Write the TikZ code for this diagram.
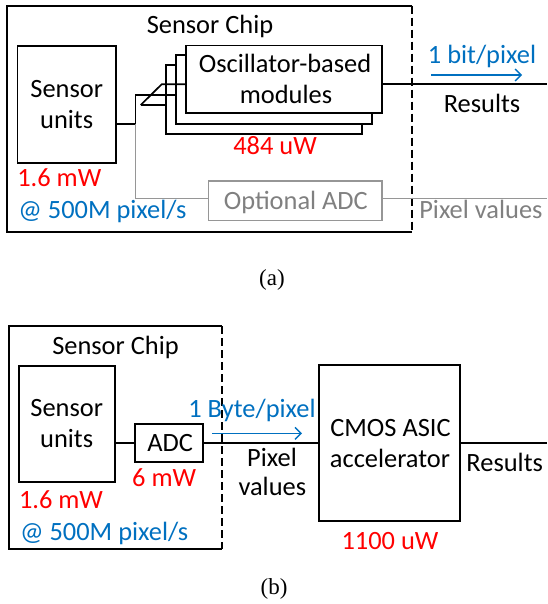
\documentclass[tikz,border=0pt]{standalone}
\usepackage{fontspec}
\setmainfont{Carlito}
\newfontfamily\capfont{Liberation Serif}
\usetikzlibrary{arrows.meta}
\definecolor{myred}{RGB}{255,0,0}
\definecolor{myblue}{RGB}{0,112,192}
\definecolor{mygray}{RGB}{128,128,128}
\definecolor{mygraybox}{RGB}{150,150,150}
\begin{document}
\begin{tikzpicture}[x=1pt,y=-1pt,line width=1.7pt,
  every node/.style={font=\fontsize{26.4}{31}\selectfont,inner sep=0pt,outer sep=0pt},
  blk/.style={draw,fill=white,line width=1.7pt,align=center},
  gblk/.style={draw=mygraybox,fill=white,line width=1.6pt,text=mygray},
  chipedge/.style={dash pattern=on 8pt off 4pt,line width=1.7pt},
  redlbl/.style={text=myred},
  bluelbl/.style={text=myblue},
  graylbl/.style={text=mygray},
  rate/.style={draw=myblue,line width=1.4pt,-{Straight Barb[length=6pt,width=12pt,line width=1.4pt]}},
  caplbl/.style={font=\capfont\fontsize{23}{26}\selectfont}
]
\useasboundingbox (0,0) rectangle (547,604);

% ================= (a) =================
\coordinate (a1) at (411.7,5.7);
\coordinate (a2) at (7.3,5.7);
\coordinate (a3) at (7.3,232.3);
\coordinate (a4) at (411.7,232.3);
\draw (a1) -- (a2) -- (a3) -- (a4);
\draw[chipedge] (a1) -- (a4);
\node[anchor=base] (chipA) at (210,33.3) {Sensor Chip};

\node[blk,minimum width=98.7pt,minimum height=117.6pt] (suA) at (66.7,104.5) {};
\node[anchor=base] (suAt1) at (66.7,97.3) {Sensor};
\node[anchor=base] (suAt2) at (66.7,129) {units};

\node[blk,minimum width=196pt,minimum height=69.3pt] (osc3) at (263.7,99.7) {};
\node[blk,minimum width=195.7pt,minimum height=69pt] (osc2) at (273.85,89.5) {};
\node[blk,minimum width=195.7pt,minimum height=67.8pt] (osc1) at (283.85,79.4) {};
\node[anchor=base] (osct1) at (285,72.7) {Oscillator-based};
\node[anchor=base] (osct2) at (286,103.3) {modules};
\node[anchor=base,redlbl] (pw1) at (275,155) {484 uW};

% bus fan-out
\coordinate (j1) at (135.5,124);
\coordinate (j2) at (135.5,95);
\coordinate (d1) at (140.7,105);
\coordinate (d2) at (161.7,84.3);
\draw (suA.east |- j1) -- (j1) -- (j2) -- (osc2.west |- j2);
\draw (d1) -- (d2) -- (osc1.west |- d2);
\draw (d1) -- (osc3.west |- d1);

% results
\coordinate (resA) at (547,84.3);
\draw (osc1.east |- resA) -- (resA);
\node[anchor=base,bluelbl] (bitA) at (482,63.3) {1 bit/pixel};
\coordinate (arA1) at (431,75);
\coordinate (arA2) at (522,75);
\draw[rate] (arA1) -- (arA2);
\node[anchor=base] (resAt) at (482,112.7) {Results};

% optional ADC
\node[gblk,minimum width=173.4pt,minimum height=39.5pt] (oadc) at (295,200.7) {};
\node[anchor=base,graylbl] (oadct) at (295.8,209.3) {Optional ADC};
\coordinate (g1) at (135.5,198.3);
\coordinate (pvA) at (547,198.3);
\draw[mygraybox,line width=1.6pt] (j1) -- (g1) -- (oadc.west |- g1);
\draw[mygraybox,line width=1.6pt] (oadc.east |- pvA) -- (pvA);
\node[anchor=base west,graylbl] (pvAt) at (419.3,218.3) {Pixel values};

\node[anchor=base west,redlbl] (pwsA) at (17.3,186.7) {1.6 mW};
\node[anchor=base west,bluelbl] (rateA) at (18.3,218.3) {@ 500M pixel/s};

\node[caplbl,anchor=base] (capA) at (272,285) {(a)};

% ================= (b) =================
\coordinate (b1) at (221.7,326);
\coordinate (b2) at (9,326);
\coordinate (b3) at (9,549.3);
\coordinate (b4) at (221.7,549.3);
\draw (b1) -- (b2) -- (b3) -- (b4);
\draw[chipedge] (b1) -- (b4);
\node[anchor=base] (chipB) at (115.5,354.3) {Sensor Chip};

\node[blk,minimum width=96pt,minimum height=116pt] (suB) at (67,423.7) {};
\node[anchor=base] (suBt1) at (66.7,416.7) {Sensor};
\node[anchor=base] (suBt2) at (66.7,447.7) {units};

\node[blk,minimum width=67.7pt,minimum height=38.3pt] (adc) at (168.85,443.15) {};
\node[anchor=base] (adct) at (170.2,451) {ADC};
\node[anchor=base,redlbl] (pwadc) at (164.2,486) {6 mW};

\node[blk,minimum width=140.7pt,minimum height=155.7pt] (asic) at (389.65,442.85) {};
\node[anchor=base] (asict1) at (390.5,436.7) {CMOS ASIC};
\node[anchor=base] (asict2) at (390,467.7) {accelerator};
\node[anchor=base,redlbl] (pwasic) at (390,549.3) {1100 uW};

\coordinate (resB) at (547,442.7);
\draw (suB.east |- adc.west) -- (adc.west);
\draw (adc.east) -- (asic.west |- adc.east);
\draw (asic.east |- resB) -- (resB);

\node[anchor=base west,bluelbl] (byteB) at (188.3,417.7) {1 Byte/pixel};
\coordinate (arB1) at (212.3,433.3);
\coordinate (arB2) at (302,433.3);
\draw[rate] (arB1) -- (arB2);
\node[anchor=base] (pvBt1) at (272,466.7) {Pixel};
\node[anchor=base] (pvBt2) at (272.3,495.7) {values};
\node[anchor=base] (resBt) at (504.7,471) {Results};

\node[anchor=base west,redlbl] (pwsB) at (19,508.3) {1.6 mW};
\node[anchor=base west,bluelbl] (rateB) at (20,540.7) {@ 500M pixel/s};

\node[caplbl,anchor=base] (capB) at (274,594.3) {(b)};
\end{tikzpicture}
\end{document}
